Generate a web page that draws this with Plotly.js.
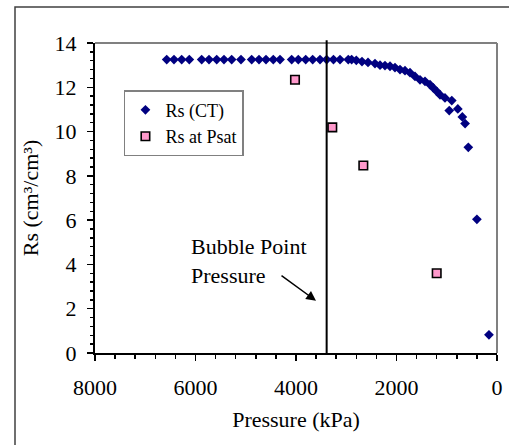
<!DOCTYPE html>
<html>
<head>
<meta charset="utf-8">
<script src="https://cdn.plot.ly/plotly-3.0.1.min.js"></script>
<style>html,body{margin:0;padding:0;background:#fff;}#chart{width:509px;height:445px;}</style>
</head>
<body>
<div id="chart"></div>
<script>
// Rs (CT) series
var ctPressure = [6573, 6428, 6275, 6123, 5877, 5731, 5578, 5433, 5280, 5095, 4882, 4736, 4597, 4452, 4318, 4086, 3954, 3807, 3668, 3522, 3390, 3254, 3124, 2960, 2893, 2800,
                  2687, 2567, 2428, 2328, 2229, 2129, 2030, 1930, 1831, 1731, 1632, 1532, 1433, 1333, 1268, 1200, 1134, 1035, 900, 950, 780, 690, 635, 571, 400, 160];
var ctRs = [13.25, 13.25, 13.25, 13.25, 13.25, 13.25, 13.25, 13.25, 13.25, 13.25, 13.25, 13.25, 13.25, 13.25, 13.25, 13.25, 13.25, 13.25, 13.25, 13.25, 13.25, 13.25, 13.25, 13.25, 13.25, 13.22,
            13.16, 13.12, 13.07, 13.0, 12.98, 12.95, 12.89, 12.8, 12.75, 12.66, 12.49, 12.34, 12.27, 12.12, 11.97, 11.82, 11.66, 11.52, 11.4, 10.95, 11.02, 10.66, 10.36, 9.29, 6.04, 0.82];
// Rs at Psat series
var psatPressure = [4020, 3278, 2660, 1200];
var psatRs = [12.34, 10.19, 8.47, 3.6];
// Bubble point pressure (kPa)
var bubblePoint = 3390;

var xTicks = [0, 2000, 4000, 6000, 8000];
var yTicks = [0, 2, 4, 6, 8, 10, 12, 14];

var fontFam = 'Liberation Serif, Times New Roman, serif';

var traces = [
  {x: ctPressure, y: ctRs, type: 'scatter', mode: 'markers', name: 'Rs (CT)',
   marker: {symbol: 'diamond', size: 7.5, color: '#000080', line: {width: 0}}},
  {x: psatPressure, y: psatRs, type: 'scatter', mode: 'markers', name: 'Rs at Psat',
   marker: {symbol: 'square', size: 8.5, color: '#FF99CC', line: {width: 1.6, color: '#000000'}}}
];

var layout = {
  width: 509, height: 445,
  margin: {l: 95, r: 12, t: 43, b: 92},
  paper_bgcolor: '#ffffff', plot_bgcolor: '#ffffff',
  font: {family: fontFam, size: 22, color: '#000'},
  showlegend: true,
  legend: {x: 0.072, y: 0.848, xanchor: 'left', yanchor: 'top',
           bgcolor: '#ffffff', bordercolor: '#808080', borderwidth: 1.5,
           font: {family: fontFam, size: 18, color: '#000'}, itemwidth: 30, tracegroupgap: 0},
  xaxis: {range: [8000, 0], tickvals: xTicks, ticktext: xTicks.map(String),
          ticks: 'outside', ticklen: 6, tickwidth: 1.5, tickcolor: '#000',
          minor: {dtick: 400, ticks: 'outside', ticklen: 3.5, tickwidth: 1.5, tickcolor: '#000', showgrid: false},
          showline: true, linecolor: '#000', linewidth: 2, showgrid: false, zeroline: false,
          ticklabelstandoff: 8,
          title: {text: 'Pressure (kPa)', font: {family: fontFam, size: 22}, standoff: 12}},
  yaxis: {range: [0, 14], tickvals: yTicks, ticktext: yTicks.map(String),
          ticks: 'outside', ticklen: 6, tickwidth: 1.5, tickcolor: '#000',
          minor: {dtick: 0.4, ticks: 'outside', ticklen: 3.5, tickwidth: 1.5, tickcolor: '#000', showgrid: false},
          showline: true, linecolor: '#000', linewidth: 2, showgrid: false, zeroline: false,
          ticklabelstandoff: 6,
          title: {text: 'Rs (cm³/cm³)', font: {family: fontFam, size: 22}, standoff: 10}},
  shapes: [
    // outer frame
    {type: 'rect', xref: 'paper', yref: 'paper', x0: -0.199, x1: 1.2, y0: -0.4, y1: 1.116,
     line: {color: '#404040', width: 1.5}, fillcolor: 'rgba(0,0,0,0)', layer: 'below'},
    // plot area top and right borders
    {type: 'line', xref: 'paper', yref: 'paper', x0: 0, x1: 1, y0: 1, y1: 1, line: {color: '#808080', width: 2}},
    {type: 'line', xref: 'paper', yref: 'paper', x0: 1, x1: 1, y0: 0, y1: 1, line: {color: '#808080', width: 2}},
    // bubble point line
    {type: 'line', xref: 'x', yref: 'paper', x0: bubblePoint, x1: bubblePoint, y0: 0, y1: 1.009,
     line: {color: '#000', width: 2}}
  ],
  annotations: [
    {xref: 'paper', yref: 'paper', x: 0.233, y: 0.39, xanchor: 'left', yanchor: 'top', align: 'left',
     text: 'Bubble Point<br>Pressure', showarrow: false, font: {family: fontFam, size: 22, color: '#000'}},
    {xref: 'x', yref: 'y', x: 3602, y: 2.36, axref: 'x', ayref: 'y', ax: 4318, ay: 3.54,
     text: '', showarrow: true, arrowhead: 2, arrowsize: 1.3, arrowwidth: 1.5, arrowcolor: '#000', standoff: 0}
  ]
};

Plotly.newPlot('chart', traces, layout, {displayModeBar: false, staticPlot: true});
</script>
</body>
</html>
